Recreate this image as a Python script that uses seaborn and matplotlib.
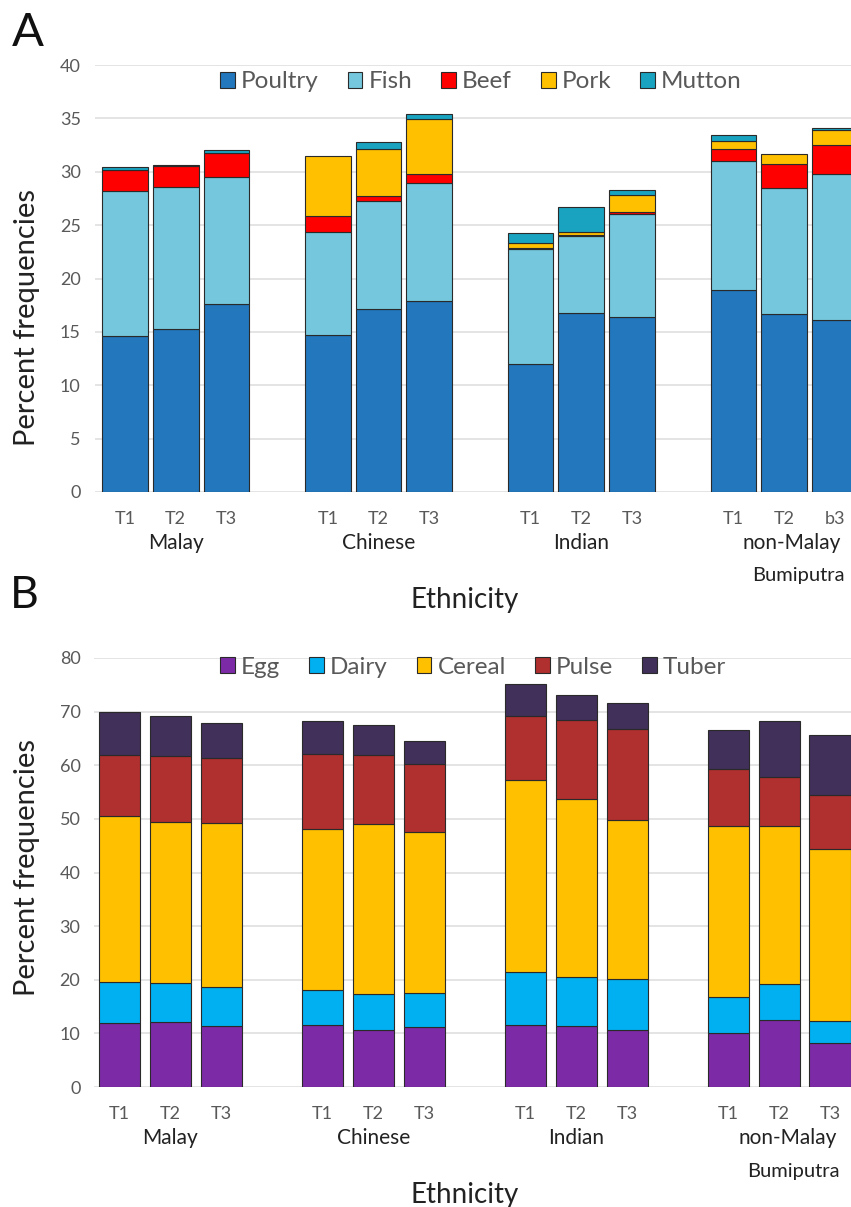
import matplotlib
matplotlib.use('Agg')
import matplotlib.pyplot as plt
import seaborn as sns
import pandas as pd
from matplotlib.patches import Patch

# ---------------- data ----------------
ethnicities = ['Malay', 'Chinese', 'Indian', 'non-Malay', 'Bumiputra']
tertiles_A = ['T1', 'T2', 'T3', 'T1', 'T2', 'T3', 'T1', 'T2', 'T3', 'T1', 'T2', 'b3']
tertiles_B = ['T1', 'T2', 'T3', 'T1', 'T2', 'T3', 'T1', 'T2', 'T3', 'T1', 'T2', 'T3']

meat_cats = ['Poultry', 'Fish', 'Beef', 'Pork', 'Mutton']
poultry = [14.6, 15.3, 17.6, 14.7, 17.1, 17.9, 12.0, 16.8, 16.4, 18.9, 16.7, 16.1]
fish    = [13.6, 13.3, 11.9, 9.7, 10.2, 11.0, 10.8, 7.2, 9.6, 12.1, 11.8, 13.7]
beef    = [2.0, 1.9, 2.3, 1.5, 0.4, 0.9, 0.1, 0.1, 0.2, 1.1, 2.2, 2.7]
pork    = [0.0, 0.0, 0.0, 5.6, 4.4, 5.1, 0.4, 0.3, 1.6, 0.8, 1.0, 1.4]
mutton  = [0.2, 0.1, 0.2, 0.0, 0.7, 0.5, 1.0, 2.3, 0.5, 0.5, 0.0, 0.2]

food_cats = ['Egg', 'Dairy', 'Cereal', 'Pulse', 'Tuber']
egg    = [11.9, 12.1, 11.4, 11.6, 10.6, 11.2, 11.6, 11.4, 10.6, 10.1, 12.5, 8.2]
dairy  = [7.7, 7.3, 7.3, 6.4, 6.7, 6.3, 9.9, 9.2, 9.6, 6.7, 6.8, 4.1]
cereal = [31.0, 30.1, 30.6, 30.1, 31.8, 30.0, 35.8, 33.1, 29.6, 31.9, 29.4, 32.1]
pulse  = [11.3, 12.3, 12.0, 14.0, 12.8, 12.8, 11.9, 14.8, 16.9, 10.6, 9.1, 10.0]
tuber  = [8.1, 7.4, 6.6, 6.2, 5.6, 4.3, 6.0, 4.6, 4.9, 7.2, 10.4, 11.3]

# bar slots (an empty slot separates each ethnic group)
slots = [0, 1, 2, 4, 5, 6, 8, 9, 10, 12, 13, 14]
group_centers = [1, 5, 9, 13]

meat_colors = {'Poultry': '#2277BD', 'Fish': '#74C7DC', 'Beef': '#FF0000',
               'Pork': '#FFC000', 'Mutton': '#19A3C0'}
food_colors = {'Egg': '#7D2AA6', 'Dairy': '#00B0F0', 'Cereal': '#FFC000',
               'Pulse': '#B02F2F', 'Tuber': '#41305A'}


def long_df(cats, series):
    rows = []
    for c, vals in zip(cats, series):
        for s, v in zip(slots, vals):
            rows.append({'pos': s, 'value': v, 'cat': c})
    return pd.DataFrame(rows)


dfA = long_df(meat_cats, [poultry, fish, beef, pork, mutton])
dfB = long_df(food_cats, [egg, dairy, cereal, pulse, tuber])

# ---------------- style ----------------
sns.set_theme(style='white')
plt.rcParams['font.family'] = ['Lato', 'DejaVu Sans']
GRAY = '#595959'
DARK = '#222222'

W, H = 851, 1207
fig = plt.figure(figsize=(W / 100, H / 100), dpi=100)

axA = fig.add_axes([94.6 / W, (H - 492) / H, (865.2 - 94.6) / W, 427 / H])
axB = fig.add_axes([94.3 / W, (H - 1087) / H, (855.4 - 94.3) / W, 429 / H])


def draw(ax, df, cats, colors, shrink, ylim, ystep, ticklabels, legend_xy):
    sns.histplot(data=df, x='pos', weights='value', hue='cat',
                 hue_order=list(reversed(cats)), palette=colors,
                 multiple='stack', discrete=True, shrink=shrink,
                 edgecolor='#2a2a2a', linewidth=0.8, alpha=1,
                 legend=False, ax=ax)
    for p in list(ax.patches):
        if p.get_height() <= 0:
            p.remove()
    ax.set_axisbelow(True)
    ax.yaxis.grid(True, color='#dcdcdc', linewidth=1.1)
    ax.xaxis.grid(False)
    for sp in ax.spines.values():
        sp.set_visible(False)
    ax.set_ylim(0, ylim)
    ax.set_yticks(list(range(0, ylim + 1, ystep)))
    ax.set_xticks(slots)
    ax.set_xticklabels(ticklabels)
    ax.set_xlabel('')
    ax.set_ylabel('')
    ax.tick_params(axis='y', length=0, pad=10, labelsize=13, labelcolor=GRAY)
    ax.tick_params(axis='x', length=0, pad=14, labelsize=13, labelcolor=GRAY)
    for lab in ax.get_xticklabels():
        lab.set_family(['Liberation Sans Narrow', 'Lato', 'DejaVu Sans'])
    # group labels
    for name, xc in zip(ethnicities[:3], group_centers[:3]):
        ax.annotate(name, xy=(xc, 0), xycoords=('data', 'axes fraction'),
                    xytext=(0, -51), textcoords='offset pixels',
                    ha='center', va='center', fontsize=15, color=DARK)
    ax.annotate(ethnicities[3], xy=(group_centers[3], 0),
                xycoords=('data', 'axes fraction'), xytext=(8, -51),
                textcoords='offset pixels', ha='center', va='center',
                fontsize=15, color=DARK)
    ax.annotate(ethnicities[4], xy=(group_centers[3], 0),
                xycoords=('data', 'axes fraction'), xytext=(14, -84),
                textcoords='offset pixels', ha='center', va='center',
                fontsize=14.5, color=DARK)
    handles = [Patch(facecolor=colors[c], edgecolor='#2a2a2a', linewidth=0.8,
                     label=c) for c in cats]
    leg = ax.legend(handles=handles, loc='center',
                    bbox_to_anchor=(legend_xy[0] / W, (H - legend_xy[1]) / H),
                    bbox_transform=fig.transFigure, ncol=5, frameon=False,
                    fontsize=17.5, handlelength=0.6, handleheight=0.6,
                    handletextpad=0.25, columnspacing=1.2, borderpad=0)
    for t in leg.get_texts():
        t.set_color(GRAY)


draw(axA, dfA, meat_cats, meat_colors, 0.9, 40, 5, tertiles_A, (481, 82))
axA.set_xlim(-0.6, 14.6)
draw(axB, dfB, food_cats, food_colors, 0.81, 80, 10, tertiles_B, (473, 667))
axB.set_xlim(-0.5, 14.5)

# axis titles and panel letters
fig.text(465 / W, 1 - 600 / H, 'Ethnicity', ha='center', va='center',
         fontsize=20, color=DARK)
fig.text(465 / W, 1 - 1195 / H, 'Ethnicity', ha='center', va='center',
         fontsize=20, color=DARK)
fig.text(27 / W, 1 - 318 / H, 'Percent frequencies', rotation=90,
         ha='center', va='center', fontsize=21, color=DARK)
fig.text(27 / W, 1 - 868 / H, 'Percent frequencies', rotation=90,
         ha='center', va='center', fontsize=21, color=DARK)
fig.text(12 / W, 1 - 33 / H, 'A', ha='left', va='center', fontsize=34,
         color='#111111')
fig.text(10 / W, 1 - 596 / H, 'B', ha='left', va='center', fontsize=32,
         color='#111111')

fig.savefig('out.png', dpi=100)
